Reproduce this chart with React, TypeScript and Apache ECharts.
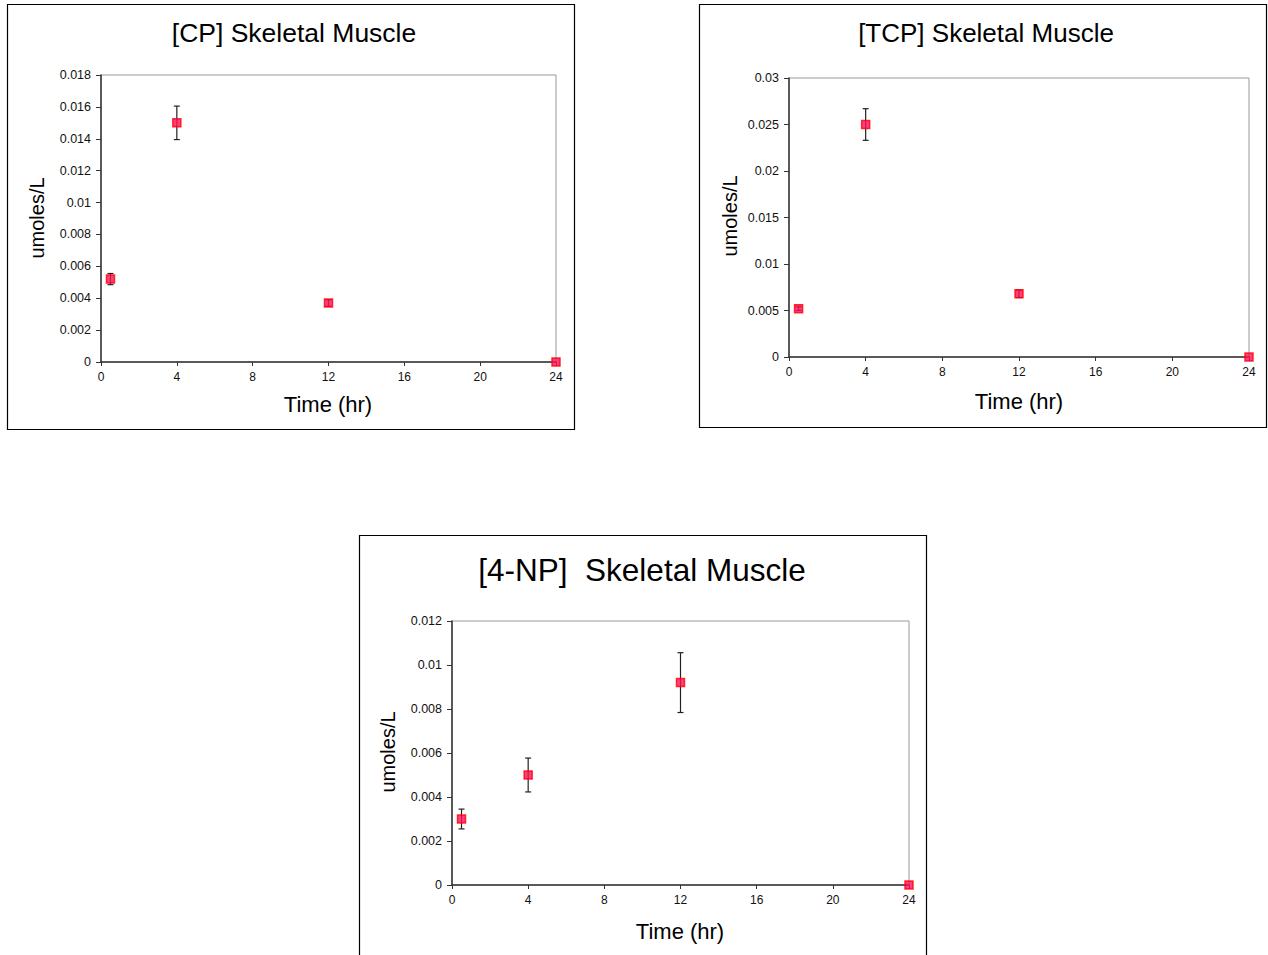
import React, { useEffect, useRef } from "react";
import * as echarts from "echarts";

const times = [0.5, 4, 12, 24];
const xTicks = [0, 4, 8, 12, 16, 20, 24];

const cpMean = [0.0052, 0.015, 0.0037, 0];
const cpErr = [0.00035, 0.00105, 0.0002, 0];

const tcpMean = [0.0052, 0.025, 0.0068, 0];
const tcpErr = [0.0002, 0.0017, 0.0004, 0];

const npMean = [0.003, 0.005, 0.0092, 0];
const npErr = [0.00045, 0.00077, 0.00136, 0];

const titles = ["[CP] Skeletal Muscle", "[TCP] Skeletal Muscle", "[4-NP]  Skeletal Muscle"];
const yLabel = "umoles/L";
const xLabel = "Time (hr)";

const FONT = "Liberation Sans, Arial, sans-serif";

export default function App() {
  const ref = useRef<HTMLDivElement>(null);
  useEffect(() => {
    if (!ref.current) return;
    const chart = echarts.init(ref.current, undefined, { renderer: "svg" });

    const grids = [
      { left: 101, top: 75, width: 455, height: 287 },
      { left: 789, top: 78, width: 460, height: 279 },
      { left: 452, top: 621, width: 457, height: 264 },
    ];
    const yMax = [0.018, 0.03, 0.012];
    const yInt = [0.002, 0.005, 0.002];
    const means = [cpMean, tcpMean, npMean];
    const errs = [cpErr, tcpErr, npErr];

    const xAxes = grids.map((_, i) => ({
      type: "value",
      gridIndex: i,
      min: 0,
      max: 24,
      interval: 4,
      axisLine: { show: true, onZero: false, lineStyle: { color: "#333", width: 1.5 } },
      axisTick: { show: true, length: 4, lineStyle: { color: "#333" } },
      axisLabel: { color: "#111", fontSize: 12, fontFamily: FONT, margin: 9,
        customValues: xTicks },
      splitLine: { show: false },
    }));
    const yAxes = grids.map((_, i) => ({
      type: "value",
      gridIndex: i,
      min: 0,
      max: yMax[i],
      interval: yInt[i],
      axisLine: { show: true, lineStyle: { color: "#333", width: 1.5 } },
      axisTick: { show: true, length: 5, lineStyle: { color: "#333" } },
      axisLabel: { color: "#111", fontSize: 12.5, fontFamily: FONT, margin: 10 },
      splitLine: { show: false },
    }));

    const series: any[] = [];
    means.forEach((m, i) => {
      const errData = times.map((t, k) => [t, m[k], m[k] - errs[i][k], m[k] + errs[i][k]]);
      series.push({
        type: "custom",
        xAxisIndex: i,
        yAxisIndex: i,
        encode: { x: 0, y: [1, 2, 3] },
        data: errData.filter((d) => d[3] - d[2] > 0),
        z: 2,
        renderItem: (params: any, api: any) => {
          const x = api.value(0);
          const lo = api.coord([x, api.value(2)]);
          const hi = api.coord([x, api.value(3)]);
          const hw = 3;
          const style = { stroke: "#222", lineWidth: 1.2 };
          return {
            type: "group",
            children: [
              { type: "line", shape: { x1: lo[0], y1: lo[1], x2: hi[0], y2: hi[1] }, style },
              { type: "line", shape: { x1: lo[0] - hw, y1: lo[1], x2: lo[0] + hw, y2: lo[1] }, style },
              { type: "line", shape: { x1: hi[0] - hw, y1: hi[1], x2: hi[0] + hw, y2: hi[1] }, style },
            ],
          };
        },
      });
      series.push({
        type: "scatter",
        xAxisIndex: i,
        yAxisIndex: i,
        symbol: "rect",
        symbolSize: 8,
        z: 5,
        clip: false,
        itemStyle: { color: "#ff1060", borderColor: "#ff0000", borderWidth: 1.5 },
        data: times.map((t, k) => [t, m[k]]),
      });
    });

    const boxes = [
      { x: 7, y: 4, w: 567, h: 425 },
      { x: 699, y: 4, w: 567, h: 423 },
      { x: 359, y: 535, w: 567, h: 430 },
    ];
    const titlePos = [
      { x: 294, y: 33, size: 26.5 },
      { x: 986, y: 33, size: 26 },
      { x: 642, y: 570, size: 31.5 },
    ];
    const yLabPos = [
      { x: 37, y: 218 },
      { x: 730, y: 216 },
      { x: 388, y: 752 },
    ];
    const xLabPos = [
      { x: 328, y: 404 },
      { x: 1019, y: 401 },
      { x: 680, y: 931 },
    ];

    const graphic: any[] = [];
    boxes.forEach((b) => {
      graphic.push({
        type: "rect",
        shape: { x: b.x + 0.5, y: b.y + 0.5, width: b.w, height: b.h },
        style: { fill: "none", stroke: "#000", lineWidth: 1.2 },
        z: 0,
      });
    });
    titles.forEach((t, i) => {
      graphic.push({
        type: "text",
        x: titlePos[i].x,
        y: titlePos[i].y,
        style: { text: t, fontSize: titlePos[i].size, fontFamily: FONT, fill: "#000",
          align: "center", verticalAlign: "middle" },
      });
      graphic.push({
        type: "text",
        x: yLabPos[i].x,
        y: yLabPos[i].y,
        rotation: Math.PI / 2,
        style: { text: yLabel, fontSize: 20, fontFamily: FONT, fill: "#000",
          align: "center", verticalAlign: "middle" },
      });
      graphic.push({
        type: "text",
        x: xLabPos[i].x,
        y: xLabPos[i].y,
        style: { text: xLabel, fontSize: 22, fontFamily: FONT, fill: "#000",
          align: "center", verticalAlign: "middle" },
      });
    });

    chart.setOption({
      animation: false,
      backgroundColor: "#fff",
      grid: grids.map((g) => ({ ...g, show: true, borderColor: "#999", borderWidth: 1, backgroundColor: "transparent" })),
      xAxis: xAxes,
      yAxis: yAxes,
      series,
      graphic,
    });
    return () => chart.dispose();
  }, []);
  return (
    <div
      ref={ref}
      style={{ position: "absolute", left: 0, top: 0, width: 1268, height: 955 }}
    />
  );
}
